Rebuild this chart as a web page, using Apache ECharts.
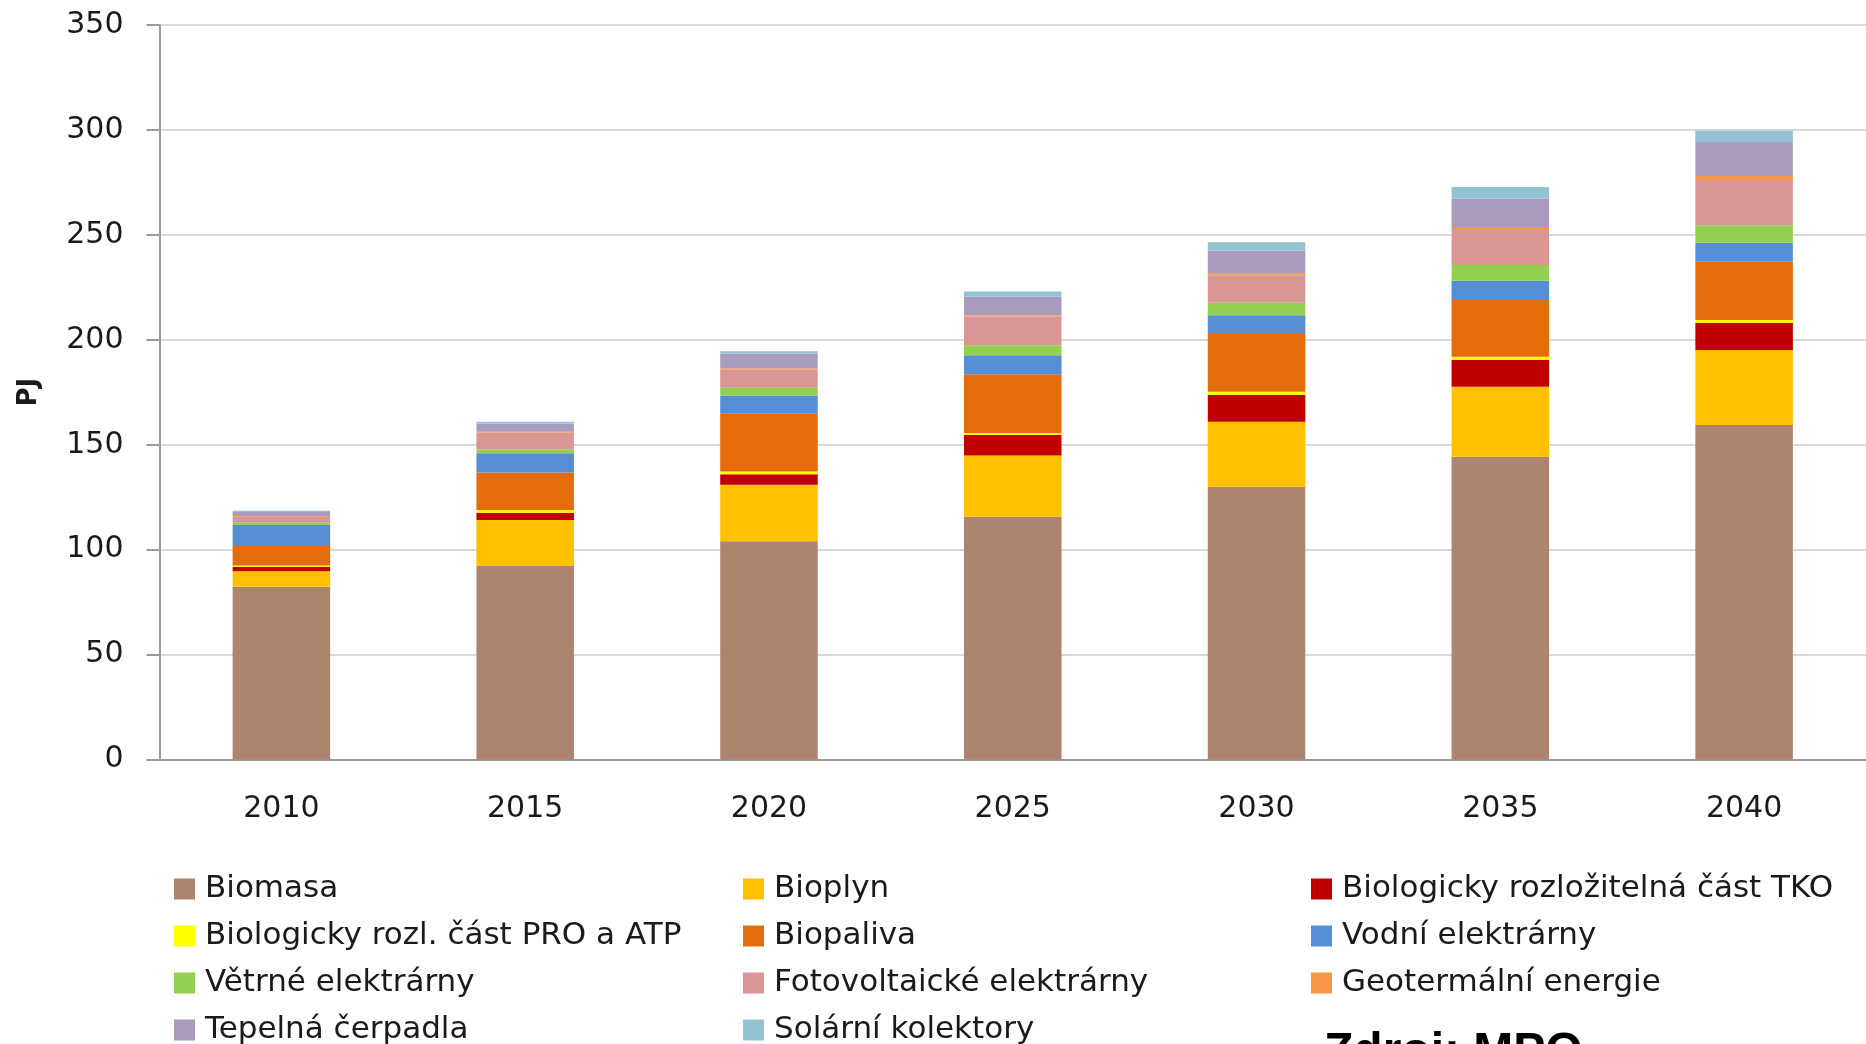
<!DOCTYPE html>
<html><head><meta charset="utf-8">
<script src="https://cdn.jsdelivr.net/npm/echarts@6/dist/echarts.min.js"></script>
<style>html,body{margin:0;padding:0;background:#fff}#c{width:1866px;height:1044px}</style>
</head><body><div id="c"></div>
<script>
const years = ['2010', '2015', '2020', '2025', '2030', '2035', '2040'];
const yTicks = [0, 50, 100, 150, 200, 250, 300, 350];

const biomasa   = [82.3, 92.2, 104.0, 115.7, 130.0, 144.3, 159.4];
const bioplyn   = [7.4, 21.9, 26.9, 29.2, 31.0, 33.3, 35.7];
const tko       = [2.2, 3.5, 5.0, 9.7, 12.8, 12.9, 13.0];
const pro       = [0.6, 1.3, 1.3, 1.0, 1.4, 1.4, 1.3];
const biopaliva = [9.7, 17.9, 27.5, 28.0, 27.5, 27.5, 27.8];
const vodni     = [9.6, 9.1, 8.7, 9.0, 9.0, 8.7, 9.0];
const vetrne    = [1.0, 1.9, 3.7, 4.8, 6.0, 7.5, 8.4];
const fotovolt  = [2.8, 8.0, 8.7, 13.7, 12.8, 17.2, 21.5];
const geoterm   = [0.3, 0.4, 0.6, 0.6, 1.0, 1.0, 2.0];
const tepelna   = [2.0, 3.9, 7.1, 8.8, 11.0, 13.5, 16.2];
const solarni   = [0.6, 0.8, 1.0, 2.5, 4.0, 5.5, 5.3];

const names = ['Biomasa', 'Bioplyn', 'Biologicky rozložitelná část TKO',
  'Biologicky rozl. část PRO a ATP', 'Biopaliva', 'Vodní elektrárny',
  'Větrné elektrárny', 'Fotovoltaické elektrárny', 'Geotermální energie',
  'Tepelná čerpadla', 'Solární kolektory'];
const colors = ['#AD846D', '#FFC000', '#C00000', '#FFFF00', '#E46C0A', '#558ED5',
  '#92D050', '#D99694', '#F79646', '#A99BBD', '#93C2D4'];
const seriesData = [biomasa, bioplyn, tko, pro, biopaliva, vodni, vetrne, fotovolt, geoterm, tepelna, solarni];

const font = 'DejaVu Sans';
const txt = '#1a1a1a';
const axisGray = '#9a9a9a';

// legend layout: 3 columns, reading order left-to-right
const colLeft = [174, 743, 1311];
const rowTop = 873.5, rowPitch = 47;
const legends = names.map((n, i) => ({
  data: [n], left: colLeft[i % 3], top: rowTop + Math.floor(i / 3) * rowPitch,
  orient: 'horizontal', padding: 0, itemWidth: 21, itemHeight: 21,
  icon: 'rect', selectedMode: false,
  textStyle: { fontSize: 31, fontFamily: font, color: txt, padding: [0, 0, 0, 5] }
}));

const chart = echarts.init(document.getElementById('c'));
chart.setOption({
  animation: false,
  grid: { left: 159.5, width: 1710, top: 25, bottom: 284.5 },
  xAxis: {
    type: 'category', data: years,
    axisLine: { lineStyle: { color: axisGray, width: 2 } },
    axisTick: { length: 13, lineStyle: { color: axisGray, width: 2 } },
    axisLabel: { margin: 35, fontSize: 30, fontFamily: font, color: txt }
  },
  yAxis: {
    type: 'value', min: yTicks[0], max: yTicks[yTicks.length - 1], interval: 50,
    name: 'PJ', nameLocation: 'middle', nameGap: 117, nameRotate: 90,
    nameTextStyle: { fontSize: 26, fontWeight: 'bold', fontFamily: font, color: txt },
    axisLine: { show: true, lineStyle: { color: axisGray, width: 2 } },
    axisTick: { show: true, length: 13, lineStyle: { color: axisGray, width: 2 } },
    axisLabel: { margin: 36, fontSize: 30, fontFamily: font, color: txt },
    splitLine: { lineStyle: { color: '#d9d9d9', width: 2 } }
  },
  legend: legends,
  series: names.map((n, i) => ({
    name: n, type: 'bar', stack: 'total', barWidth: '40%',
    data: seriesData[i], itemStyle: { color: colors[i] }
  })),
  graphic: [{
    type: 'text', x: 1324, y: 1053,
    style: { text: 'Zdroj: MPO', fontSize: 48, fontWeight: 'bold', fontFamily: 'Liberation Sans',
      fill: '#000', align: 'left', verticalAlign: 'middle' }
  }]
});
</script>
</body></html>
